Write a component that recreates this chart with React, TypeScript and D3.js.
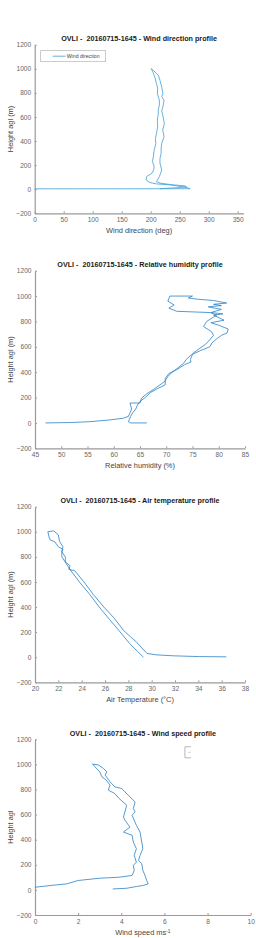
import React, { useRef, useEffect } from 'react'
import * as d3 from 'd3'

// heights are m agl, first value is the measured quantity
const heightTicks = [-200, 0, 200, 400, 600, 800, 1000, 1200]

const windDirTicks = [0, 50, 100, 150, 200, 250, 300, 350]
const windDirAscent = [
  [0, 3], [268, 4], [262, 14], [253, 22], [233, 36], [210, 44], [199, 55], [192, 77],
  [193, 105], [202, 132], [205, 160], [206, 188], [203, 230], [204.6, 270], [206, 326],
  [209, 380], [208, 420], [210, 463], [212, 520], [211.5, 574], [213, 620], [213, 656],
  [215, 700], [215, 739], [211.5, 794], [212, 840], [210, 877], [207, 932], [204, 970],
  [201, 1001],
]
const windDirDescent = [
  [201, 1001], [205, 985], [213, 946], [216, 905], [219, 850], [221, 794], [219, 770],
  [223, 739], [221, 684], [219, 650], [220.7, 615], [223.6, 546], [220.7, 491], [223, 436],
  [219, 381], [218, 340], [218, 298], [216, 255], [216, 215], [219, 160], [215, 105],
  [210, 63], [216, 50], [239, 36], [259, 28], [262, 20], [245, 12], [220, 6], [216, 3],
]

const rhTicks = [45, 50, 55, 60, 65, 70, 75, 80, 85]
const rhAscent = [
  [47, 0], [51.7, 3], [55.5, 10], [59.3, 24], [61.8, 37], [62.8, 52], [63.1, 79],
  [63.4, 110], [63.1, 157], [65, 157], [65.3, 196], [66.3, 230], [67.5, 262], [68.8, 300],
  [69.8, 330], [70.3, 367], [71.3, 405], [72.4, 440], [73.3, 470], [73.8, 500], [75, 545],
  [76.4, 589], [77.5, 620], [78, 642], [79, 690], [78.6, 720], [77.1, 760], [77.7, 800],
  [79.6, 850], [78.4, 870], [72, 880], [70.5, 905], [71.5, 930], [70.3, 960], [70.7, 1000],
  [75, 1000],
]
const rhDescent = [
  [75, 1000], [74.2, 985], [76, 975], [79, 965], [81.5, 945], [79, 935], [80.5, 925],
  [78, 915], [80.5, 895], [78.5, 870], [80.8, 860], [79, 850], [81, 810], [78.5, 790],
  [80, 770], [81.8, 740], [81.6, 710], [80.5, 690], [79.5, 660], [78.7, 630], [78.3, 600],
  [76.5, 570], [75, 540], [74.6, 500], [74.7, 480], [73.5, 460], [72, 420], [70.5, 390],
  [69.8, 350], [69.8, 300], [68.3, 270], [67, 240], [66, 200], [65, 170], [64.5, 140],
  [64.2, 110], [63.6, 80], [63.2, 50], [63, 30], [62.8, 10], [63.2, 0], [66.3, 0],
]

const tempTicks = [20, 22, 24, 26, 28, 30, 32, 34, 36, 38]
const tempAscent = [
  [36.4, 3], [34.1, 5], [31.9, 11], [30.4, 19], [29.6, 30], [28.7, 120], [27.6, 212],
  [26.8, 310], [25.9, 400], [25.0, 500], [24.2, 600], [23.4, 690], [22.9, 700],
  [23.0, 730], [22.6, 760], [22.6, 800], [22.3, 840], [22.4, 860], [22.0, 880],
  [21.7, 920], [21.3, 935], [21.2, 960], [21.1, 1000],
]
const tempDescent = [
  [21.1, 1000], [21.6, 1008], [22.0, 975], [22.1, 925], [22.4, 880], [22.3, 850],
  [22.3, 800], [23.0, 700], [23.8, 600], [24.7, 500], [25.5, 400], [26.4, 300],
  [27.2, 212], [28.1, 110], [28.8, 45], [29.3, 0],
]

const windSpeedTicks = [0, 2, 4, 6, 8, 10]
const windSpeedAscent = [
  [0, 21], [0.7, 35], [1.47, 48], [2.0, 75], [3.0, 93], [3.9, 101], [4.5, 115], [4.6, 155],
  [4.56, 195], [4.7, 221], [4.6, 275], [4.7, 328], [4.56, 381], [4.5, 435], [4.1, 461],
  [4.4, 500], [4.17, 555], [4.1, 581], [4.17, 621], [4.25, 675], [3.9, 728], [3.7, 768],
  [3.4, 795], [3.48, 835], [3.3, 875], [3.1, 901], [3.0, 941], [2.78, 981], [2.67, 1003],
]
const windSpeedDescent = [
  [2.67, 1003], [2.94, 995], [3.17, 968], [3.33, 941], [3.25, 915], [3.48, 861], [3.7, 821],
  [4.02, 808], [4.17, 781], [4.4, 741], [4.64, 701], [4.56, 648], [4.64, 621], [4.5, 595],
  [4.7, 515], [4.87, 461], [4.95, 381], [5.0, 328], [4.87, 275], [4.8, 235], [4.95, 208],
  [5.0, 155], [5.1, 115], [5.18, 75], [5.25, 48], [5.0, 35], [4.7, 27], [4.25, 13],
  [3.63, 8], [3.6, 5],
]

const TITLE_PREFIX = 'OVLI -  20160715-1645 - '
const FONT = '"Liberation Sans", Arial, Helvetica, sans-serif'

const panels = [
  {
    title: TITLE_PREFIX + 'Wind direction profile', xLabel: 'Wind direction (deg)',
    yLabel: 'Height agl (m)', xDomain: [0, 360], xTicks: windDirTicks,
    series: [windDirAscent, windDirDescent], color: '#3d9fd4',
    left: 34.7, right: 243.5, top: 44.7, bottom: 213.3, legend: true,
  },
  {
    title: TITLE_PREFIX + 'Relative humidity profile', xLabel: 'Relative humidity (%)',
    yLabel: 'Height agl (m)', xDomain: [45, 85], xTicks: rhTicks,
    series: [rhAscent, rhDescent], color: '#2a82c6',
    left: 35, right: 245, top: 270.7, bottom: 448.3,
  },
  {
    title: TITLE_PREFIX + 'Air temperature profile', xLabel: 'Air Temperature (°C)',
    yLabel: 'Height agl (m)', xDomain: [20, 38], xTicks: tempTicks,
    series: [tempAscent, tempDescent], color: '#2a82c6',
    left: 35, right: 245, top: 506.7, bottom: 682.3,
  },
  {
    title: TITLE_PREFIX + 'Wind speed profile', xLabel: 'Wind speed ms',
    xSup: '-1', yLabel: 'Height agl', xDomain: [0, 10], xTicks: windSpeedTicks,
    series: [windSpeedAscent, windSpeedDescent], color: '#2a82c6',
    left: 35, right: 250.7, top: 739.3, bottom: 915, emptyLegend: true,
  },
]

function styleAxis(a) {
  a.attr('font-family', FONT).attr('font-size', 6.6)
  a.select('.domain').attr('stroke', '#9a9a9a').attr('stroke-width', 1.2)
  a.selectAll('.tick line').attr('stroke', '#9a9a9a')
  a.selectAll('.tick text').attr('fill', '#666')
}

function drawPanel(svg, p) {
  const x = d3.scaleLinear().domain(p.xDomain).range([p.left, p.right])
  const y = d3.scaleLinear().domain([-200, 1200]).range([p.bottom, p.top])
  const g = svg.append('g')

  const xa = g.append('g')
    .attr('transform', `translate(0,${p.bottom})`)
    .call(d3.axisBottom(x).tickValues(p.xTicks).tickFormat(d3.format('d'))
      .tickSizeInner(-2).tickSizeOuter(0).tickPadding(4.5))
  styleAxis(xa)

  const ya = g.append('g')
    .attr('transform', `translate(${p.left},0)`)
    .call(d3.axisLeft(y).tickValues(heightTicks).tickFormat(d3.format('d'))
      .tickSizeInner(-2).tickSizeOuter(0).tickPadding(3.5))
  styleAxis(ya)

  const line = d3.line()
    .x(d => x(d[0]))
    .y(d => y(d[1]))

  g.selectAll('path.profile')
    .data(p.series)
    .join('path')
      .attr('class', 'profile')
      .attr('fill', 'none')
      .attr('stroke', p.color)
      .attr('stroke-width', 0.8)
      .attr('stroke-linejoin', 'round')
      .attr('d', d => line(d))

  const cx = (p.left + p.right) / 2
  g.append('text')
    .attr('x', cx)
    .attr('y', p.top - 6)
    .attr('text-anchor', 'middle')
    .attr('dy', '0.35em')
    .attr('font-family', FONT)
    .attr('font-weight', 'bold')
    .attr('font-size', 7.2)
    .attr('fill', '#1a1a1a')
    .style('white-space', 'pre')
    .text(p.title)

  const xl = g.append('text')
    .attr('x', cx)
    .attr('y', p.bottom + 17.5)
    .attr('text-anchor', 'middle')
    .attr('dy', '0.35em')
    .attr('font-family', FONT)
    .attr('font-size', 7.4)
    .attr('fill', '#444')
    .text(p.xLabel)
  if (p.xSup) {
    xl.append('tspan').attr('dy', '-0.5em').attr('font-size', 4.8).text(p.xSup)
  }

  g.append('text')
    .attr('transform', `translate(10.5,${(p.top + p.bottom) / 2}) rotate(-90)`)
    .attr('text-anchor', 'middle')
    .attr('dy', '0.35em')
    .attr('font-family', FONT)
    .attr('font-size', 7.4)
    .attr('fill', '#444')
    .text(p.yLabel)

  if (p.legend) {
    const lg = g.append('g').attr('transform', `translate(${p.left + 6},${p.top + 6})`)
    lg.append('rect').attr('width', 65).attr('height', 11)
      .attr('fill', 'white').attr('stroke', '#aaa').attr('stroke-width', 0.6)
    lg.append('line').attr('x1', 12).attr('x2', 25).attr('y1', 5.5).attr('y2', 5.5)
      .attr('stroke', p.color).attr('stroke-width', 0.8)
    lg.append('text').attr('x', 26).attr('y', 5.5).attr('dy', '0.35em')
      .attr('font-family', FONT).attr('font-size', 5.2).attr('fill', '#444')
      .text('Wind direction')
  }

  if (p.emptyLegend) {
    const eg = g.append('g').attr('transform', `translate(${x(6.95)},${p.top + 7.5})`)
    eg.append('path').attr('d', 'M6,0H0V11H6')
      .attr('fill', 'none').attr('stroke', '#999').attr('stroke-width', 0.7)
    eg.append('line').attr('x1', 3.5).attr('x2', 5.5).attr('y1', 5.5).attr('y2', 5.5)
      .attr('stroke', '#999').attr('stroke-width', 0.6)
  }
}

export default function App() {
  const svgRef = useRef(null)
  const width = 256
  const height = 938

  useEffect(() => {
    const svg = d3.select(svgRef.current)
    svg.selectAll('*').remove()
    svg.append('rect').attr('width', width).attr('height', height).attr('fill', 'white')
    panels.forEach(p => drawPanel(svg, p))
  }, [])

  return (
    <svg
      ref={svgRef}
      width={width}
      height={height}
      style={{ position: 'absolute', left: 0, top: 0, display: 'block' }}
    />
  )
}
